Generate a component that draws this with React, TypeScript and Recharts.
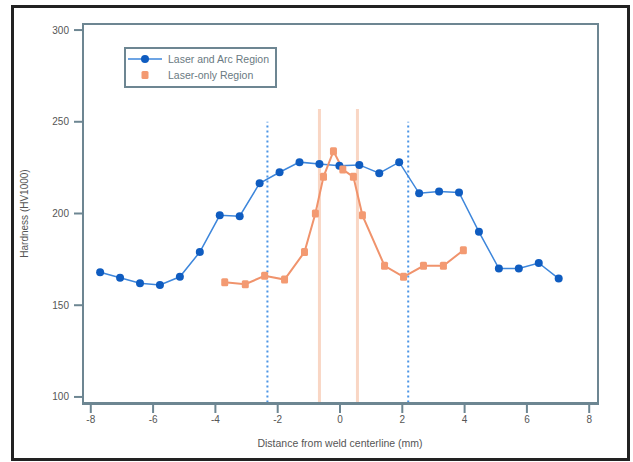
import { LineChart, Line, XAxis, YAxis, ReferenceLine } from 'recharts';

// Laser and arc region traverse
const arcX = [-7.7, -7.06, -6.42, -5.78, -5.14, -4.5, -3.86, -3.22, -2.58, -1.94, -1.3, -0.66, -0.02, 0.62, 1.26, 1.9, 2.54, 3.18, 3.82, 4.46, 5.1, 5.74, 6.38, 7.02];
const arcHardness = [168, 165, 162, 161, 165.5, 179, 199, 198.5, 216.5, 222.5, 228, 227, 226, 226.5, 222, 228, 211, 212, 211.5, 190, 170, 170, 173, 164.5];

// Laser-only region traverse
const laserX = [-3.7, -3.04, -2.42, -1.78, -1.14, -0.79, -0.53, -0.21, 0.09, 0.43, 0.72, 1.43, 2.04, 2.68, 3.32, 3.96];
const laserHardness = [162.5, 161.5, 166, 164, 179, 200, 220, 234, 224, 220, 199, 171.5, 165.5, 171.5, 171.5, 180];

// region boundaries
const arcBounds = [-2.33, 2.19];
const laserBounds = [-0.66, 0.56];

const seriesNames = ['Laser and Arc Region', 'Laser-only Region'];
const xTicks = [-8, -6, -4, -2, 0, 2, 4, 6, 8];
const yTicks = [100, 150, 200, 250, 300];

const arcData = arcX.map((x, i) => ({ x, y: arcHardness[i] }));
const laserData = laserX.map((x, i) => ({ x, y: laserHardness[i] }));

const AXIS = '#6d8692';
const BLUE_LINE = '#3d86db';
const BLUE_DOT = '#0f5cc0';
const ORANGE_LINE = '#f0936c';
const ORANGE_DOT = '#f39a72';
const font = '"Liberation Sans", Arial, sans-serif';

const SquareDot = (props: any) => {
  const { cx, cy } = props;
  if (cx == null || cy == null) return null;
  return <rect x={cx - 3.5} y={cy - 4} width={7} height={8} rx={1.5} fill={ORANGE_DOT} />;
};

const LegendBox = () => (
  <div style={{
    position: 'absolute', left: 124, top: 47,
    border: `2px solid ${AXIS}`,
    padding: '2px 6px 3px 2px',
    fontFamily: font,
    fontSize: 10.5,
    color: '#6a7a82',
    lineHeight: '16px',
    background: '#fff',
  }}>
    <div style={{ display: 'flex', alignItems: 'center' }}>
      <svg width={34} height={12} style={{ marginRight: 6 }}>
        <line x1={0} y1={6} x2={34} y2={6} stroke={BLUE_LINE} strokeWidth={1.5} />
        <circle cx={17} cy={6} r={4} fill={BLUE_DOT} />
      </svg>
      {seriesNames[0]}
    </div>
    <div style={{ display: 'flex', alignItems: 'center' }}>
      <svg width={34} height={12} style={{ marginRight: 6 }}>
        <rect x={13.5} y={2} width={7} height={8} rx={1.5} fill={ORANGE_DOT} />
      </svg>
      {seriesNames[1]}
    </div>
  </div>
);

export default function App() {
  return (
    <div style={{ position: 'absolute', left: 0, top: 0, width: 633, height: 462, background: '#fff' }}>
      <div style={{
        position: 'absolute', left: 11, top: 5, width: 613, height: 450,
        border: '3px solid #222',
      }} />
      {/* plot frame */}
      <div style={{
        position: 'absolute', left: 82, top: 23, width: 513, height: 378,
        border: `2px solid ${AXIS}`,
      }} />
      <div style={{ position: 'absolute', left: 0, top: 0 }}>
        <LineChart width={633} height={462} margin={{ top: 24, right: 36, bottom: 29, left: 33 }}>
          <XAxis
            type="number"
            dataKey="x"
            domain={[-8.25, 8.25]}
            ticks={xTicks}
            allowDuplicatedCategory={false}
            height={30}
            tickSize={10}
            tickMargin={3}
            stroke={AXIS}
            strokeWidth={2}
            tick={{ fontSize: 10, fill: '#555', fontFamily: font }}
            label={{ value: 'Distance from weld centerline (mm)', position: 'insideBottom', offset: -14, fontSize: 10.5, fill: '#555', fontFamily: font }}
          />
          <YAxis
            type="number"
            dataKey="y"
            domain={[96.7, 303.3]}
            ticks={yTicks}
            width={50}
            tickSize={9}
            tickMargin={5}
            stroke={AXIS}
            strokeWidth={2}
            tick={{ fontSize: 10, fill: '#555', fontFamily: font }}
            label={{ value: 'Hardness (HV1000)', angle: -90, position: 'insideLeft', offset: -9, fontSize: 10, fill: '#555', fontFamily: font, style: { textAnchor: 'middle' } }}
          />
          {laserBounds.map((b) => (
            <ReferenceLine
              key={`l${b}`}
              segment={[{ x: b, y: 96.7 }, { x: b, y: 257 }]}
              stroke="#f9d6c4"
              strokeWidth={3}
              ifOverflow="visible"
            />
          ))}
          {arcBounds.map((b) => (
            <ReferenceLine
              key={`a${b}`}
              segment={[{ x: b, y: 97 }, { x: b, y: 250 }]}
              stroke="#4c95e6"
              strokeWidth={2}
              strokeDasharray="2 3"
              ifOverflow="visible"
            />
          ))}
          <Line
            data={arcData}
            dataKey="y"
            name={seriesNames[0]}
            stroke={BLUE_LINE}
            strokeWidth={1.5}
            dot={{ r: 4, fill: BLUE_DOT, stroke: BLUE_DOT, strokeWidth: 0 }}
            isAnimationActive={false}
          />
          <Line
            data={laserData}
            dataKey="y"
            name={seriesNames[1]}
            stroke={ORANGE_LINE}
            strokeWidth={2}
            dot={<SquareDot />}
            isAnimationActive={false}
          />
        </LineChart>
      </div>
      <LegendBox />
    </div>
  );
}
